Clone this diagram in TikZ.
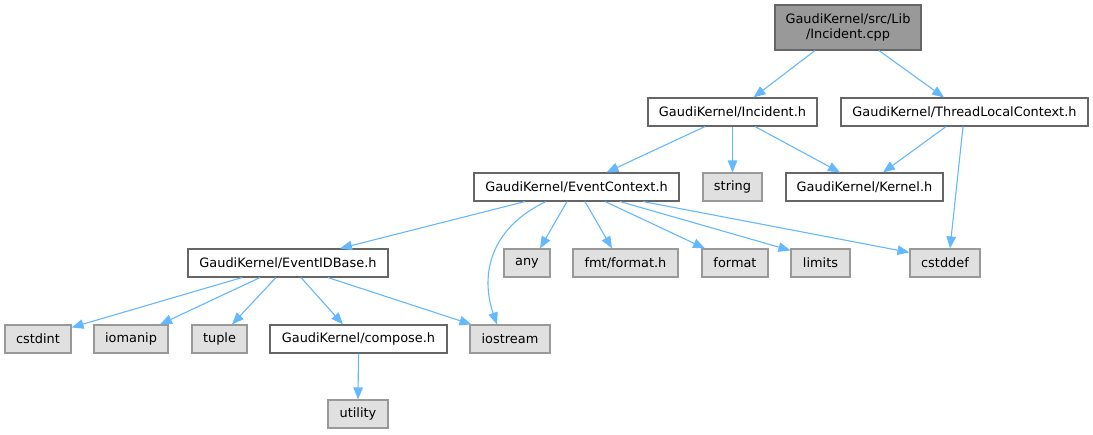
\documentclass[tikz,border=0pt]{standalone}
\usepackage{fontspec}
\setmainfont{DejaVu Sans}
\usetikzlibrary{arrows.meta}
\definecolor{edgec}{HTML}{63B8FF}
\definecolor{rootfill}{HTML}{999999}
\definecolor{darkb}{HTML}{666666}
\definecolor{sysfill}{HTML}{E0E0E0}
\definecolor{sysb}{HTML}{999999}
\begin{document}
\begin{tikzpicture}[x=1pt,y=-1pt,
  box/.style={draw=darkb,fill=white,line width=1.1pt,inner sep=0pt,minimum height=28pt,font=\fontsize{12.9}{15.5}\selectfont},
  rootbox/.style={box,fill=rootfill,minimum height=45pt,align=center},
  sysbox/.style={box,draw=sysb,fill=sysfill},
  dep/.style={draw=edgec,line width=1.1pt,-{Triangle[length=12pt,width=9.5pt]}}]
\path[use as bounding box] (0,0) rectangle (1093,434);
% nodes
\node[rootbox,minimum width=146pt] (root) at (848,27.5) {GaudiKernel/src/Lib\\/Incident.cpp};
\node[box,minimum width=169pt] (inc) at (732.5,112) {GaudiKernel/Incident.h};
\node[box,minimum width=247pt] (tlc) at (964.5,112) {GaudiKernel/ThreadLocalContext.h};
\node[box,minimum width=205pt] (ec) at (576.5,187) {GaudiKernel/EventContext.h};
\node[sysbox,minimum width=59pt] (str) at (732.5,187) {string};
\node[box,minimum width=157pt] (ker) at (864.5,187) {GaudiKernel/Kernel.h};
\node[box,minimum width=200pt] (eid) at (288,263) {GaudiKernel/EventIDBase.h};
\node[sysbox,minimum width=46pt] (any) at (527,263) {any};
\node[sysbox,minimum width=105pt] (fmt) at (625.5,263) {fmt/format.h};
\node[sysbox,minimum width=66pt] (fms) at (735,263) {format};
\node[sysbox,minimum width=59pt] (lim) at (820.5,263) {limits};
\node[sysbox,minimum width=70pt] (csd) at (945,263) {cstddef};
\node[sysbox,minimum width=66pt] (cin) at (38,339) {cstdint};
\node[sysbox,minimum width=74pt] (iom) at (131,339) {iomanip};
\node[sysbox,minimum width=55pt] (tup) at (219.5,339) {tuple};
\node[box,minimum width=177pt] (cmp) at (358.5,339) {GaudiKernel/compose.h};
\node[sysbox,minimum width=80pt] (ios) at (510,339) {iostream};
\node[sysbox,minimum width=60pt] (uti) at (358,414) {utility};
% edges
\draw[dep] ([xshift=-33pt]root.south) -- ([xshift=21pt]inc.north);
\draw[dep] ([xshift=31pt]root.south) -- ([xshift=-20.5pt]tlc.north);
\draw[dep] ([xshift=-27.5pt]inc.south) -- ([xshift=30pt]ec.north);
\draw[dep] (inc.south) -- (str.north);
\draw[dep] ([xshift=22.5pt]inc.south) -- ([xshift=-24.5pt]ker.north);
\draw[dep] ([xshift=-18.5pt]tlc.south) -- ([xshift=18.5pt]ker.north);
\draw[dep] ([xshift=-1.5pt]tlc.south) -- ([xshift=5pt]csd.north);
\draw[dep] ([xshift=-51.5pt]ec.south) -- ([xshift=52pt]eid.north);
\draw[dep] ([xshift=-30.5pt]ec.south) .. controls (490,228) and (480,275) .. ([xshift=-13pt]ios.north);
\draw[dep] ([xshift=-9.5pt]ec.south) -- ([xshift=13pt]any.north);
\draw[dep] ([xshift=8.5pt]ec.south) -- ([xshift=-13.5pt]fmt.north);
\draw[dep] ([xshift=28.5pt]ec.south) -- ([xshift=-30pt]fms.north);
\draw[dep] ([xshift=43.5pt]ec.south) -- ([yshift=-2pt]lim.north west);
\draw[dep] ([xshift=66.5pt]ec.south) -- ([yshift=-4pt]csd.north west);
\draw[dep] ([xshift=-46pt]eid.south) -- ([yshift=-3pt]cin.north east);
\draw[dep] ([xshift=-28pt]eid.south) -- ([xshift=29pt]iom.north);
\draw[dep] ([xshift=-12pt]eid.south) -- ([xshift=12.5pt]tup.north);
\draw[dep] ([xshift=13pt]eid.south) -- ([xshift=-15.5pt]cmp.north);
\draw[dep] ([xshift=40pt]eid.south) -- ([xshift=2pt]ios.north west);
\draw[dep] (cmp.south) -- (uti.north);
\end{tikzpicture}
\end{document}
